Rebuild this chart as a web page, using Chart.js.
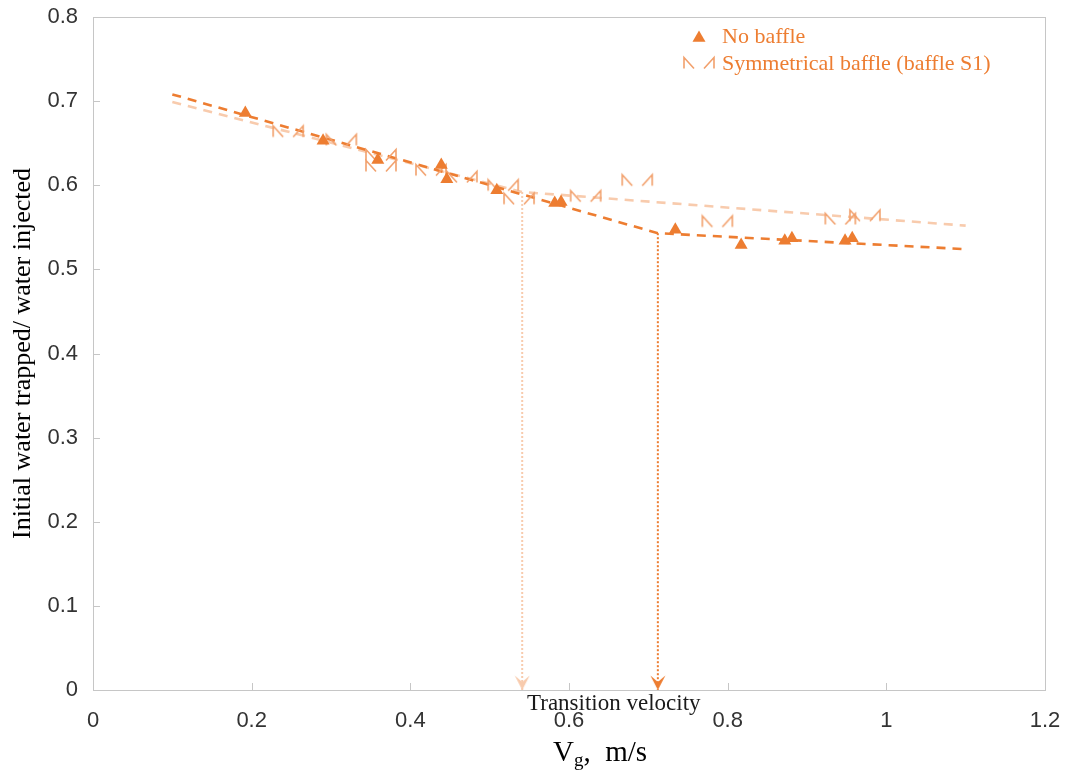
<!DOCTYPE html>
<html>
<head>
<meta charset="utf-8">
<script src="https://cdn.jsdelivr.net/npm/chart.js@4.4.1/dist/chart.umd.min.js"></script>
<style>
  html, body { margin: 0; padding: 0; background: #ffffff; }
  canvas { display: block; }
</style>
</head>
<body>
<canvas id="chart" width="1066" height="774"></canvas>
<script>
// Gas velocity (m/s) and initial water trapped / water injected, no baffle
const vgNoBaffle      = [0.192, 0.290, 0.359, 0.439, 0.446, 0.509, 0.582, 0.590, 0.734, 0.817, 0.872, 0.881, 0.948, 0.957];
const trappedNoBaffle = [0.686, 0.653, 0.630, 0.624, 0.607, 0.594, 0.579, 0.580, 0.547, 0.529, 0.534, 0.537, 0.534, 0.537];

// Symmetrical baffle (baffle S1)
const vgBaffleS1      = [0.246, 0.313, 0.363, 0.363, 0.426, 0.465, 0.517, 0.537, 0.621, 0.686, 0.787, 0.942, 0.973];
const trappedBaffleS1 = [0.664, 0.654, 0.636, 0.623, 0.618, 0.610, 0.600, 0.584, 0.587, 0.606, 0.557, 0.560, 0.564];

// Piecewise linear trends (break at the transition velocity)
const trendVgNoBaffle = [0.1, 0.712, 1.1];
const trendNoBaffle   = [0.708, 0.543, 0.524];
const trendVgBaffleS1 = [0.1, 0.541, 1.1];
const trendBaffleS1   = [0.699, 0.592, 0.552];

// Transition velocities
const transitionNoBaffle = 0.712;
const transitionBaffleS1 = 0.541;

// Axis ticks
const xTickValues = [0, 0.2, 0.4, 0.6, 0.8, 1, 1.2];
const xTickLabels = ['0', '0.2', '0.4', '0.6', '0.8', '1', '1.2'];
const yTickValues = [0, 0.1, 0.2, 0.3, 0.4, 0.5, 0.6, 0.7, 0.8];
const yTickLabels = ['0', '0.1', '0.2', '0.3', '0.4', '0.5', '0.6', '0.7', '0.8'];

const ORANGE = '#ED7D31';
const PEACH = '#F8CBAD';
const S1_MARK = '#F2A06C';
const SERIF = '"Liberation Serif", "Times New Roman", serif';
const SANS = '"Liberation Sans", Arial, sans-serif';

const toXY = (xs, ys) => xs.map((x, i) => ({ x: x, y: ys[i] }));

// Split marker used for the baffle S1 series: "|\" and "/|"
function makeS1Marker(color) {
  const c = document.createElement('canvas');
  c.width = 36; c.height = 16;
  const g = c.getContext('2d');
  g.strokeStyle = color;
  g.lineWidth = 1.6;
  g.lineJoin = 'miter';
  g.beginPath();
  g.moveTo(3, 13.5); g.lineTo(3, 2.5); g.lineTo(13, 13.5);
  g.moveTo(23, 13.5); g.lineTo(33, 2.5); g.lineTo(33, 13.5);
  g.stroke();
  return c;
}

// Arrow head with its tip at the centre of the image
function makeArrowHead(color) {
  const w = 16, h = 16;
  const c = document.createElement('canvas');
  c.width = w; c.height = h * 2;
  const g = c.getContext('2d');
  g.fillStyle = color;
  g.beginPath();
  g.moveTo(w / 2, h);
  g.lineTo(0.5, 1.5);
  g.lineTo(w / 2, h - 8);
  g.lineTo(w - 0.5, 1.5);
  g.closePath();
  g.fill();
  return c;
}

const s1Marker = makeS1Marker(S1_MARK);
const arrowPeach = makeArrowHead(PEACH);
const arrowOrange = makeArrowHead(ORANGE);

// Keep the plot area fixed: no extra room for overflowing edge labels
function clearScalePadding(s) {
  s.paddingLeft = 0; s.paddingRight = 0; s.paddingTop = 0; s.paddingBottom = 0;
}

// Box around the plot area and inward tick marks
const framePlugin = {
  id: 'frame',
  beforeDatasetsDraw(chart) {
    const { ctx, chartArea: a, scales } = chart;
    ctx.save();
    ctx.strokeStyle = '#C6C6C6';
    ctx.lineWidth = 1;
    ctx.strokeRect(Math.round(a.left) + 0.5, Math.round(a.top) + 0.5,
                   Math.round(a.right - a.left), Math.round(a.bottom - a.top));
    ctx.beginPath();
    scales.x.ticks.forEach(t => {
      const px = Math.round(scales.x.getPixelForValue(t.value)) + 0.5;
      ctx.moveTo(px, a.bottom); ctx.lineTo(px, a.bottom - 7);
    });
    scales.y.ticks.forEach(t => {
      const py = Math.round(scales.y.getPixelForValue(t.value)) + 0.5;
      ctx.moveTo(a.left, py); ctx.lineTo(a.left + 7, py);
    });
    ctx.stroke();
    ctx.restore();
  }
};

// Legend, x-axis title with subscript and the transition label
const annotatePlugin = {
  id: 'annotate',
  afterDraw(chart) {
    const { ctx } = chart;
    ctx.save();

    // legend
    ctx.fillStyle = ORANGE;
    ctx.beginPath();
    const tx = 699, ty = 38, r = 7.5;
    ctx.moveTo(tx, ty - r);
    ctx.lineTo(tx + r * 0.866, ty + r / 2);
    ctx.lineTo(tx - r * 0.866, ty + r / 2);
    ctx.closePath();
    ctx.fill();
    ctx.drawImage(s1Marker, 699 - s1Marker.width / 2, 63 - s1Marker.height / 2);

    ctx.font = '22px ' + SERIF;
    ctx.textBaseline = 'alphabetic';
    ctx.textAlign = 'left';
    ctx.fillStyle = ORANGE;
    ctx.fillText(chart.data.datasets[0].label, 722, 43);
    ctx.fillText(chart.data.datasets[1].label, 722, 70);

    // x-axis title: V_g, m/s
    ctx.fillStyle = '#000000';
    ctx.font = '29px ' + SERIF;
    let x = 553;
    const base = 761;
    ctx.fillText('V', x, base);
    x += ctx.measureText('V').width;
    ctx.font = '19px ' + SERIF;
    ctx.fillText('g', x, base + 5);
    x += ctx.measureText('g').width;
    ctx.font = '29px ' + SERIF;
    ctx.fillText(',  m/s', x, base);

    // transition label
    ctx.font = '23px ' + SERIF;
    ctx.fillStyle = '#1a1a1a';
    ctx.fillText('Transition velocity', 527, 710);

    ctx.restore();
  }
};

const data = {
  datasets: [
    {
      label: 'No baffle',
      data: toXY(vgNoBaffle, trappedNoBaffle),
      pointStyle: 'triangle',
      pointRadius: 7.5,
      pointBackgroundColor: ORANGE,
      pointBorderWidth: 0,
      showLine: false,
      order: 0
    },
    {
      label: 'Symmetrical baffle (baffle S1)',
      data: toXY(vgBaffleS1, trappedBaffleS1),
      pointStyle: s1Marker,
      pointRadius: 8,
      showLine: false,
      order: 1
    },
    {
      label: 'Trend, no baffle',
      data: toXY(trendVgNoBaffle, trendNoBaffle),
      showLine: true,
      borderColor: ORANGE,
      borderWidth: 2.6,
      borderDash: [9, 7],
      pointRadius: 0,
      order: 2
    },
    {
      label: 'Trend, baffle S1',
      data: toXY(trendVgBaffleS1, trendBaffleS1),
      showLine: true,
      borderColor: PEACH,
      borderWidth: 2.6,
      borderDash: [9, 7],
      pointRadius: 0,
      order: 3
    },
    {
      label: 'Transition, no baffle',
      data: [{ x: transitionNoBaffle, y: trendNoBaffle[1] }, { x: transitionNoBaffle, y: 0 }],
      showLine: true,
      borderColor: ORANGE,
      borderWidth: 2,
      borderDash: [2, 2],
      pointStyle: ctx => ctx.dataIndex === 1 ? arrowOrange : false,
      pointRadius: ctx => ctx.dataIndex === 1 ? 8 : 0,
      order: 4
    },
    {
      label: 'Transition, baffle S1',
      data: [{ x: transitionBaffleS1, y: trendBaffleS1[1] }, { x: transitionBaffleS1, y: 0 }],
      showLine: true,
      borderColor: PEACH,
      borderWidth: 2,
      borderDash: [2, 2],
      pointStyle: ctx => ctx.dataIndex === 1 ? arrowPeach : false,
      pointRadius: ctx => ctx.dataIndex === 1 ? 8 : 0,
      order: 5
    }
  ]
};

new Chart(document.getElementById('chart'), {
  type: 'scatter',
  data: data,
  plugins: [framePlugin, annotatePlugin],
  options: {
    responsive: false,
    devicePixelRatio: 1,
    animation: false,
    events: [],
    layout: { padding: { top: 17, right: 21, bottom: 0, left: 0 } },
    plugins: {
      legend: { display: false },
      tooltip: { enabled: false }
    },
    scales: {
      x: {
        type: 'linear',
        min: 0,
        max: 1.2,
        afterBuildTicks: s => { s.ticks = xTickValues.map(v => ({ value: v })); },
        afterFit: s => { s.height = 84; clearScalePadding(s); },
        grid: { display: false, drawTicks: false },
        border: { display: false },
        ticks: {
          padding: 18,
          color: '#333333',
          font: { family: SANS, size: 22 },
          callback: (v, i) => xTickLabels[i]
        }
      },
      y: {
        type: 'linear',
        min: 0,
        max: 0.8,
        afterBuildTicks: s => { s.ticks = yTickValues.map(v => ({ value: v })); },
        afterFit: s => { s.width = 93; clearScalePadding(s); },
        grid: { display: false, drawTicks: false },
        border: { display: false },
        ticks: {
          padding: 15,
          color: '#333333',
          font: { family: SANS, size: 22 },
          callback: (v, i) => yTickLabels[i]
        },
        title: {
          display: true,
          text: 'Initial water trapped/ water injected',
          color: '#000000',
          font: { family: SERIF, size: 26 },
          padding: { top: 8, bottom: 0 }
        }
      }
    }
  }
});
</script>
</body>
</html>
